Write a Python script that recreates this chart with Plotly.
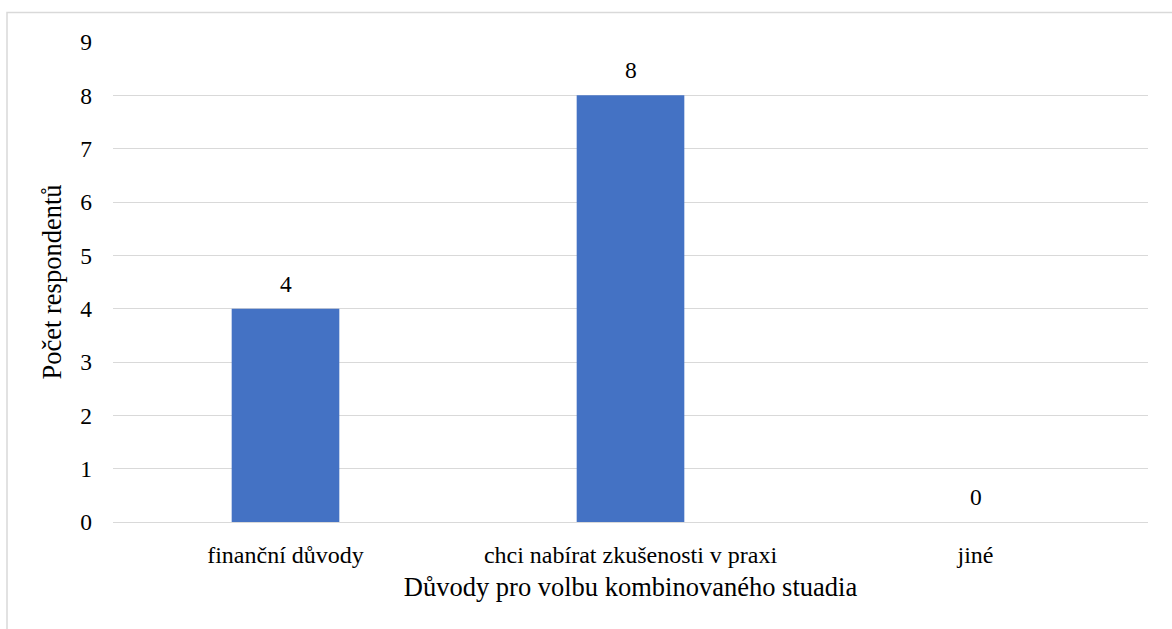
import plotly.graph_objects as go

# Survey results: reasons for choosing combined (part-time) study
categories = ["finanční důvody", "chci nabírat zkušenosti v praxi", "jiné"]
counts = [4, 8, 0]
y_ticks = list(range(0, 10))

FONT = "'Times New Roman', 'Liberation Serif', 'DejaVu Serif', serif"
BAR_COLOR = "#4472C4"
GRID_COLOR = "#D9D9D9"

W, H = 1172, 629
L, R, T, B = 113, 24, 42, 107
pw, ph = W - L - R, H - T - B

fig = go.Figure(
    go.Bar(
        x=categories,
        y=counts,
        marker=dict(color=BAR_COLOR, line=dict(width=0)),
        hoverinfo="x+y",
    )
)

# value labels above each bar
for cat, v in zip(categories, counts):
    fig.add_annotation(
        x=cat, y=v, text=str(v), showarrow=False,
        yanchor="bottom", yshift=10,
        font=dict(family=FONT, size=23.5, color="#000000"),
    )

fig.update_layout(
    width=W,
    height=H,
    margin=dict(l=L, r=R, t=T, b=B, pad=0),
    paper_bgcolor="white",
    plot_bgcolor="white",
    bargap=0.688,
    showlegend=False,
    font=dict(family=FONT, size=24, color="#000000"),
    xaxis=dict(
        title=dict(text="Důvody pro volbu kombinovaného stuadia",
                   font=dict(family=FONT, size=26.5, color="#000000"), standoff=10),
        showgrid=False,
        showline=True,
        linecolor=GRID_COLOR,
        linewidth=1.3,
        ticks="",
        tickfont=dict(family=FONT, size=24, color="#000000"),
        ticklabelstandoff=11,
    ),
    yaxis=dict(
        title=dict(text="Počet respondentů", font=dict(family=FONT, size=26.5, color="#000000"),
                   standoff=10),
        range=[0, 9],
        tickvals=y_ticks,
        showgrid=True,
        gridcolor=GRID_COLOR,
        gridwidth=1.3,
        zeroline=False,
        showline=False,
        ticks="",
        tickfont=dict(family=FONT, size=23.5, color="#000000"),
        ticklabelstandoff=20,
    ),
    shapes=[
        # chart frame (clipped at the right and bottom edges)
        dict(
            type="rect", xref="paper", yref="paper",
            x0=(7 - L) / pw, x1=(W + 10 - L) / pw,
            y0=-(B + 10) / ph, y1=(H - B - 12.5) / ph,
            line=dict(color="#D9D9D9", width=1.5),
            fillcolor="rgba(0,0,0,0)", layer="below",
        )
    ],
)

fig.write_html("out.html")
